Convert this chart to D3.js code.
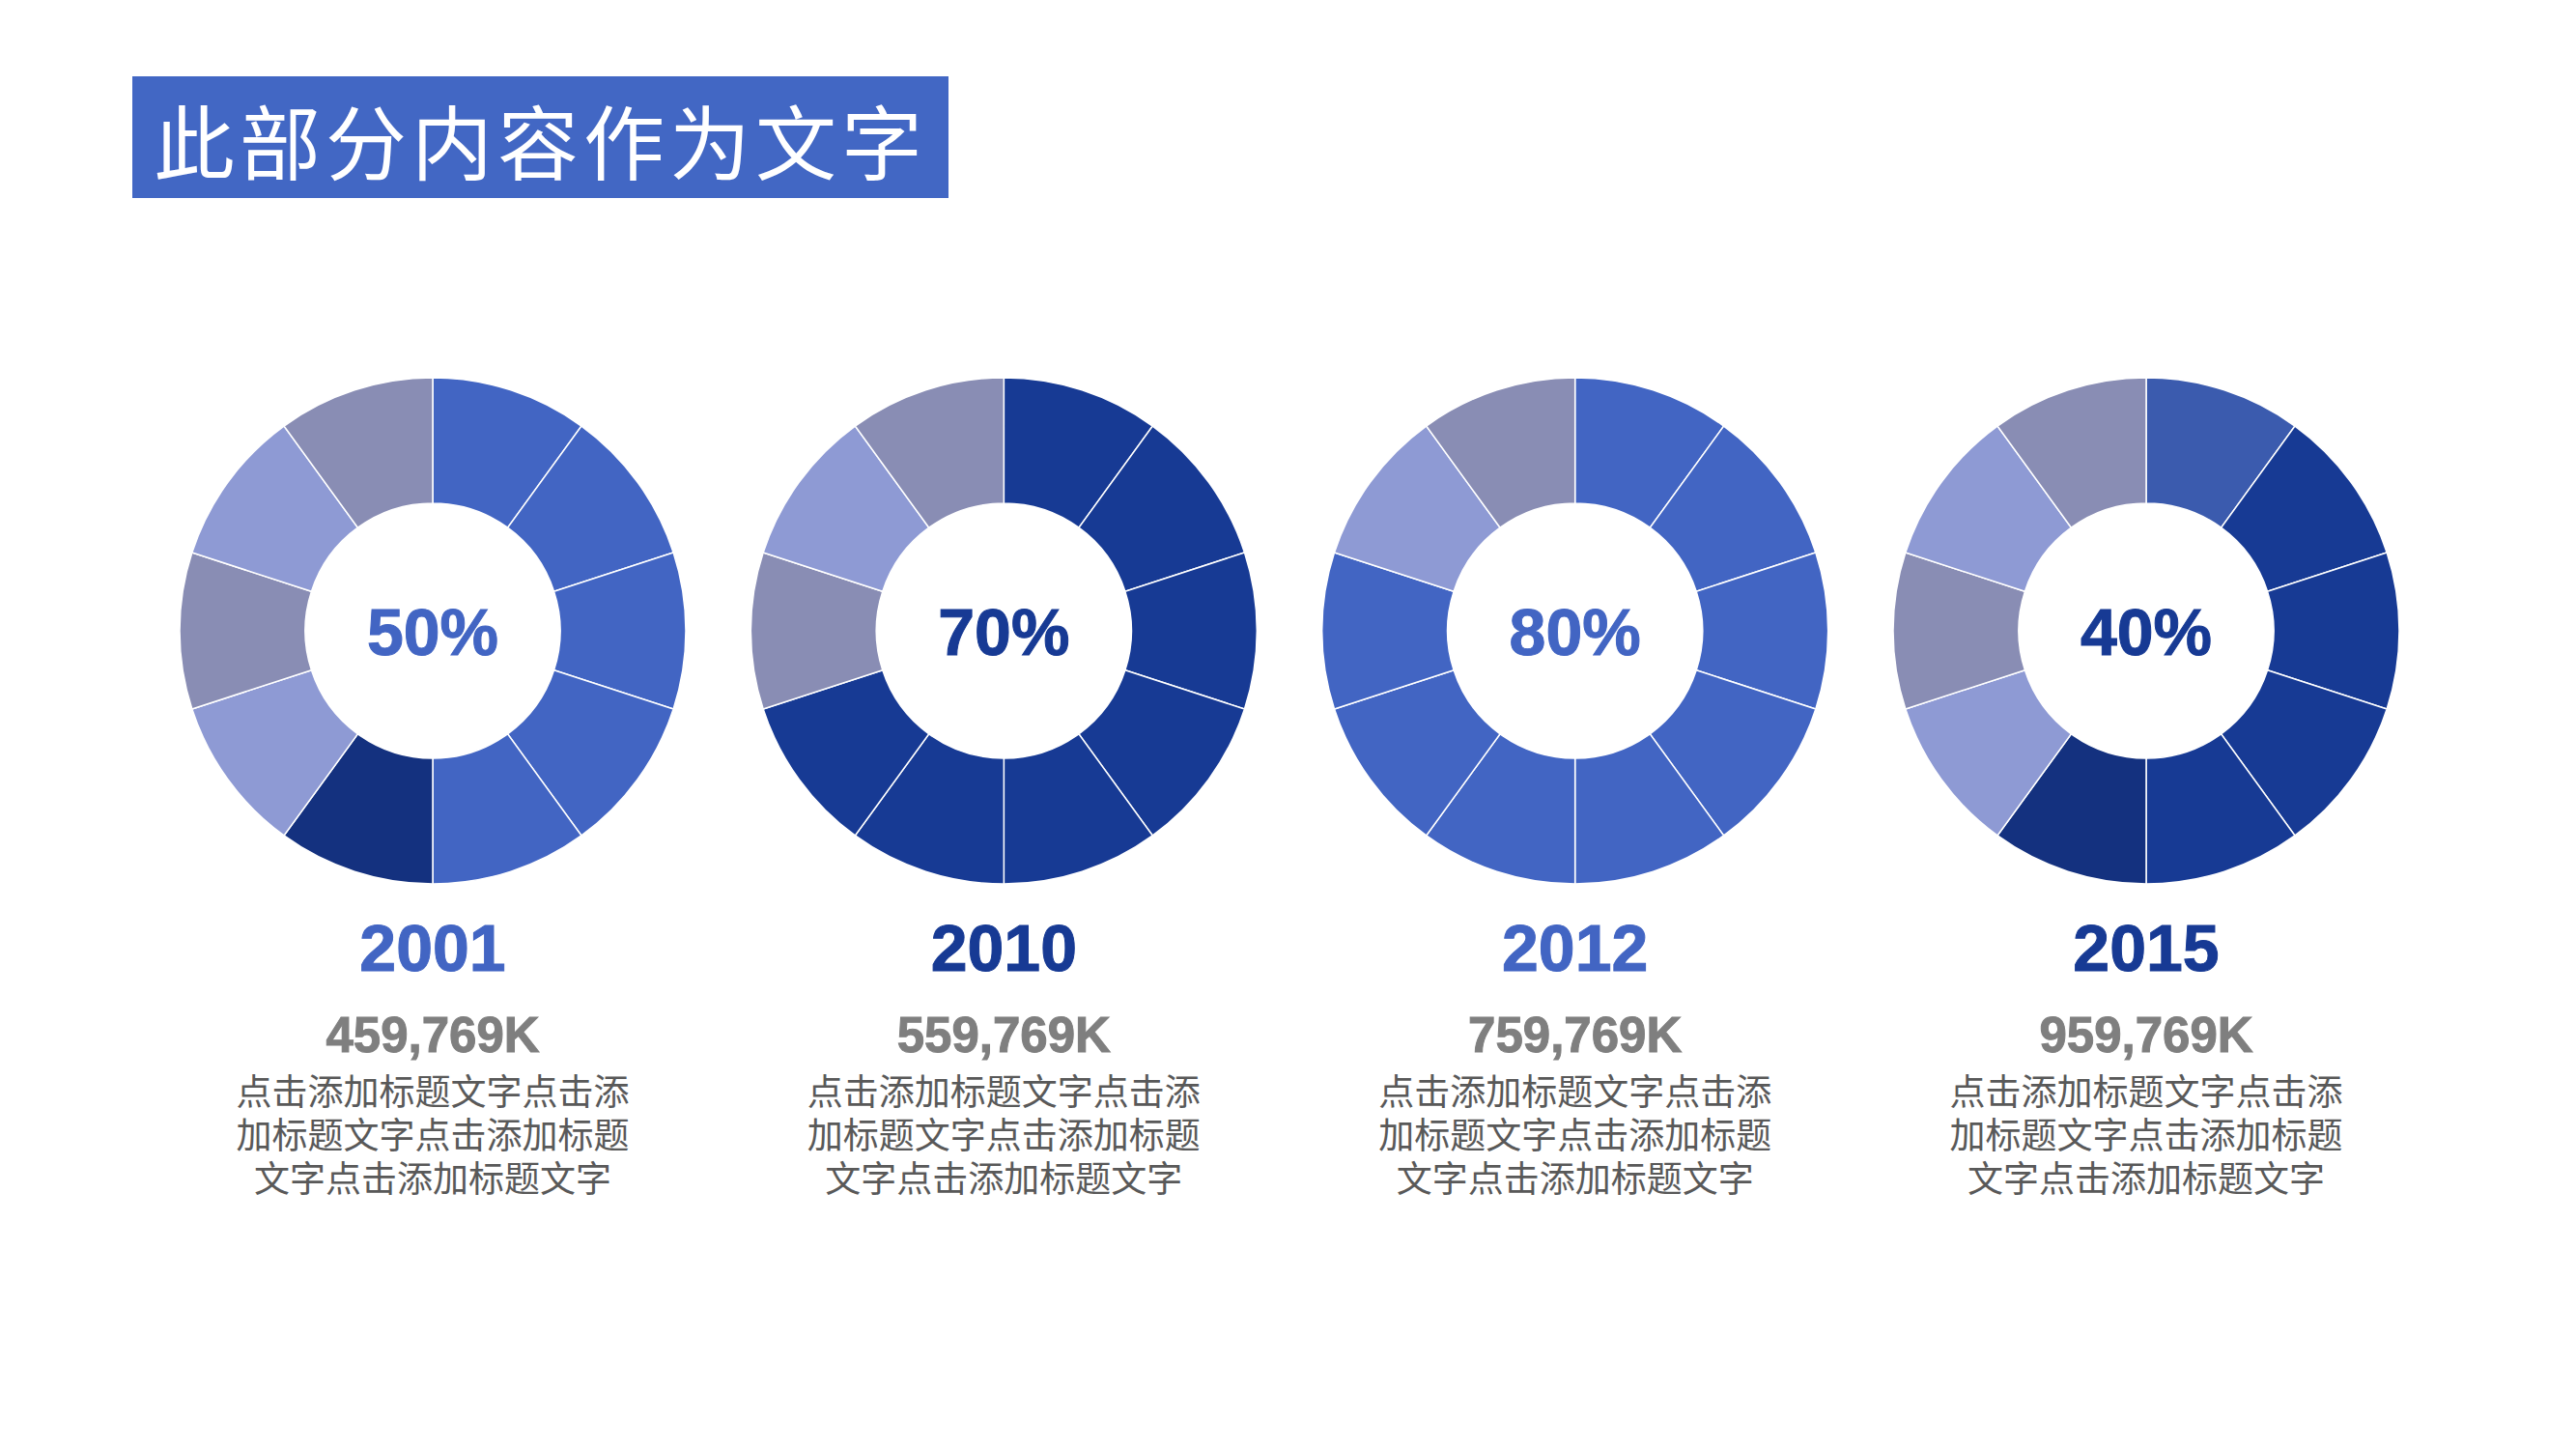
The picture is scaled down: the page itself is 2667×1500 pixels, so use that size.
<!DOCTYPE html>
<html>
<head>
<meta charset="utf-8">
<script src="https://cdnjs.cloudflare.com/ajax/libs/d3/7.8.5/d3.min.js"></script>
<style>
  body { margin: 0; background: #fff; }
  svg { display: block; }
</style>
</head>
<body>
<div id="chart"></div>
<script>
// Data
const titleText = "此部分内容作为文字";
const years = ["2001", "2010", "2012", "2015"];
const percents = ["50%", "70%", "80%", "40%"];
const amounts = ["459,769K", "559,769K", "759,769K", "959,769K"];
const themes = ["medium", "navy", "medium", "navy"];
// ten equal segments per ring, clockwise from 12 o'clock
const segments = [
  ["theme", "theme", "theme", "theme", "theme", "dark", "light", "muted", "light", "muted"],
  ["theme", "theme", "theme", "theme", "theme", "theme", "theme", "muted", "light", "muted"],
  ["theme", "theme", "theme", "theme", "theme", "theme", "theme", "theme", "light", "muted"],
  ["soft", "theme", "theme", "theme", "theme", "dark", "light", "muted", "light", "muted"]
];
const descLines = [
  "点击添加标题文字点击添",
  "加标题文字点击添加标题",
  "文字点击添加标题文字"
];

// Dimensions
const width = 2667;
const height = 1500;

const themeColor = d3.scaleOrdinal()
  .domain(["medium", "navy"])
  .range(["#4265c3", "#173a94"]);

const segColor = d3.scaleOrdinal()
  .domain(["dark", "light", "muted", "soft"])
  .range(["#14317f", "#8e9ad4", "#898db4", "#3b5bae"]);

const svg = d3.select("#chart")
  .append("svg")
    .attr("width", width)
    .attr("height", height)
    .attr("viewBox", [0, 0, width, height]);

svg.append("rect")
  .attr("width", width)
  .attr("height", height)
  .attr("fill", "#fff");

// Title box
svg.append("rect")
  .attr("x", 137)
  .attr("y", 79)
  .attr("width", 845)
  .attr("height", 126)
  .attr("fill", "#4267c4");

svg.append("text")
  .attr("x", 159)
  .attr("y", 143)
  .attr("dominant-baseline", "central")
  .attr("fill", "#fff")
  .attr("font-family", "'Noto Sans CJK SC', sans-serif")
  .attr("font-weight", 400)
  .attr("font-size", 84)
  .attr("letter-spacing", 5)
  .text(titleText);

// x positions of the rings
const x = d3.scalePoint()
  .domain(years)
  .range([448, 2222]);

const cy = 653;
const pie = d3.pie().value(1).sort(null);
const arc = d3.arc().innerRadius(132).outerRadius(262);

const groups = svg.selectAll(".ring")
  .data(years)
  .join("g")
    .attr("class", "ring")
    .attr("transform", d => `translate(${x(d)}, 0)`);

groups.each(function(year, i) {
  const g = d3.select(this);
  const ringCol = themeColor(themes[i]);

  g.append("g")
      .attr("transform", `translate(0, ${cy})`)
    .selectAll("path")
    .data(pie(segments[i]))
    .join("path")
      .attr("d", arc)
      .attr("fill", d => d.data === "theme" ? ringCol : segColor(d.data))
      .attr("stroke", "#fff")
      .attr("stroke-width", 1.5);

  // percentage in the hole
  g.append("text")
    .attr("y", cy + 25)
    .attr("text-anchor", "middle")
    .attr("fill", ringCol)
    .attr("font-family", "'Liberation Sans', Arial, sans-serif")
    .attr("font-weight", 700)
    .attr("font-size", 68)
    .attr("stroke", ringCol)
    .attr("stroke-width", 1)
    .text(percents[i]);

  // year
  g.append("text")
    .attr("y", 1005)
    .attr("text-anchor", "middle")
    .attr("fill", ringCol)
    .attr("font-family", "'Liberation Sans', Arial, sans-serif")
    .attr("font-weight", 700)
    .attr("font-size", 68)
    .attr("stroke", ringCol)
    .attr("stroke-width", 1)
    .text(year);

  // amount
  g.append("text")
    .attr("y", 1089)
    .attr("text-anchor", "middle")
    .attr("fill", "#7f7f7f")
    .attr("font-family", "'Liberation Sans', Arial, sans-serif")
    .attr("font-weight", 700)
    .attr("font-size", 51)
    .attr("stroke", "#7f7f7f")
    .attr("stroke-width", 1)
    .text(amounts[i]);

  // description lines
  g.selectAll(".desc")
    .data(descLines)
    .join("text")
      .attr("class", "desc")
      .attr("y", (d, j) => 1144 + j * 45)
      .attr("text-anchor", "middle")
      .attr("fill", "#595959")
      .attr("font-family", "'Noto Sans CJK SC', sans-serif")
      .attr("font-size", 37)
      .text(d => d);
});
</script>
</body>
</html>
